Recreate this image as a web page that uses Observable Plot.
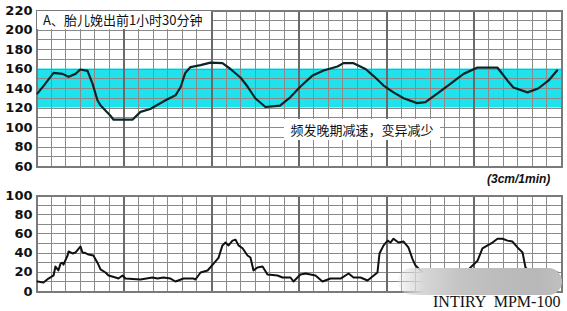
<!DOCTYPE html>
<html><head><meta charset="utf-8">
<script src="https://cdn.jsdelivr.net/npm/d3@7"></script>
<script src="https://cdn.jsdelivr.net/npm/@observablehq/plot@0.6"></script>
<style>
body{margin:0;background:#fff;}
#wrap{position:relative;width:567px;height:311px;overflow:hidden;background:#fff;}
#topBox,#botBox{position:absolute;left:0;}
#topBox{top:0;} #botBox{top:185px;}
.note{position:absolute;background:#fff;font-family:"Noto Sans CJK SC";font-size:13px;line-height:18px;color:#111;white-space:nowrap;}
#speed{position:absolute;left:487px;top:172px;font-family:"Liberation Sans";font-weight:bold;font-style:italic;font-size:12px;color:#111;}
#blob{position:absolute;left:398px;top:268px;width:164px;height:27px;border-radius:14px;
 background:linear-gradient(to right,rgba(230,230,230,0.3),#d6d6d6 16%,#c4c4c4 38%,#bbbbbb 65%,#b8b8b8 85%,#c0c0c0);filter:blur(0.6px);}
#brand{position:absolute;left:433px;top:294px;font-family:"Liberation Serif";font-size:16px;line-height:16px;color:#111;white-space:pre;}
</style></head>
<body><div id="wrap">
<div id="topBox"></div><div id="botBox"></div>
<div class="note" id="title" style="left:37px;top:11px;width:168px;height:18px;padding-left:6px;"></div>
<div class="note" id="anno" style="left:284px;top:119px;width:156px;height:21px;line-height:21px;text-align:center;"></div>
<div id="speed"></div>
<div id="blob"></div>
<div id="brand"></div>
</div>
<script>
// ---- data ----
const titleText = "A、胎儿娩出前1小时30分钟";
const annoText = "频发晚期减速，变异减少";
const speedText = "(3cm/1min)";
const brandText = "INTIRY  MPM-100";

const fhrT = [0.7,5,11.7,17.8,22,26.7,30,35,38.4,41.8,44,50.7,52.8,65.8,71.3,78,88.5,95.3,98.7,102,105.6,112.5,119.3,127.5,133,140,144.7,150,157,167,174,181,189,196.8,206.4,210.5,217.4,225.6,231,238,244.8,251.7,261,266.7,275,284,292.8,302.4,316,323,327,336.7,344,351,357];
const fhrV = [135,143,156,155,152,155,159.5,158,145,128,122.5,112,108,108,116,119,128,133,141,156,162,164,166.5,166,160,151,142,130,121,122.5,131,142,153,158.5,162.5,166,166,160,153,143,136,130,125,126,135,145,155,161.5,161.5,148,141,136,140,148,158.5];

const ucT = [0.7,4.8,8.2,11.7,13,15,16.5,17.8,18.5,21.3,22,24.7,26.7,30.2,31.5,33.6,35.7,39,41.8,43.9,47.3,49.4,54.2,56.2,59,61,71.3,79.5,83,87,91.9,95.3,100.8,107.7,109,112.5,117.3,121.4,124.8,127.5,129.6,131.7,134.4,136.5,138.5,141.3,144.7,146.7,148.8,151.5,155,158.4,165.3,168.7,174.2,176.2,181,184.5,191.3,196.1,201.6,208.5,214,217.4,222.2,227,233.8,235.2,238,240.8,242.7,244.8,248.2,251.7,255,257.8,259.9,263.3,271.5,278.4,287.3,292.8,297.6,302.4,305.8,309.3,312.7,316.1,319.5,323,326.4,329.8,333.3,335.3,338.7,343.5,350.4,353.8,357.3];
const ucV = [10.4,9.4,13.5,16.7,26,22,29,30,28,37.5,41.7,39.6,40.6,46.9,40.6,40,38.5,37.5,30,23,19.8,16.7,14.6,13.5,16.7,13.5,12.5,14.6,13.5,14.6,13.5,10.4,13.5,13.5,12.5,19.8,21.9,29,35,48,51,48,53,54,48,45,37.5,35.4,21.9,25,26,17.7,16.7,14.6,14.6,10.4,17.7,18.75,16.7,10.4,13.5,13.5,18.75,14.6,14.6,11.5,19.8,39.6,48,53,51,55,51,52,46,34,27,22,16.7,17.7,19.8,16.7,25,32,45,48,51,55,55,53,52,46,40.6,25,19.8,18.75,16.7,19.8,19.8];

const fhrTicks = [60,80,100,120,140,160,180,200,220];
const ucTicks = [0,20,40,60,80,100];
const band = [{lo:120, hi:160}];
const tSpan = [0,360];

// ---- helpers ----
const fhr = fhrT.map((t,i)=>({t, v:fhrV[i]}));
const uc = ucT.map((t,i)=>({t, v:ucV[i]}));
const minorX = d3.range(tSpan[0], tSpan[1]+1, 10);
const majorX = d3.range(tSpan[0], tSpan[1]+1, 60);
const axisStyle = {fontFamily:"DejaVu Sans", fontSize:"13px", fontWeight:"bold", color:"#111", background:"transparent", overflow:"visible"};

function grid(yMin, yMax){
  return [
    Plot.ruleY(d3.range(yMin, yMax+1, 10), {stroke:"#8a8a8a", strokeWidth:1, shapeRendering:"crispEdges"}),
    Plot.ruleX(minorX, {x:d=>d, stroke:"#8a8a8a", strokeWidth:1, shapeRendering:"crispEdges"}),
    Plot.ruleX(majorX, {x:d=>d, stroke:"#6a6a6a", strokeWidth:2, shapeRendering:"crispEdges"}),
    Plot.frame({stroke:"#7a7a7a", strokeWidth:2, shapeRendering:"crispEdges"})
  ];
}

const topChart = Plot.plot({
  width:567, height:175, marginLeft:36, marginRight:6, marginTop:10, marginBottom:9,
  style: axisStyle,
  x:{domain:tSpan, axis:null},
  y:{domain:[60,220], axis:null, label:null},
  marks:[
    Plot.rect(band, {x1:()=>tSpan[0], x2:()=>tSpan[1], y1:"lo", y2:"hi", fill:"#1fe2ec"}),
    ...grid(60,220),
    Plot.axisY({ticks:fhrTicks, tickSize:0, tickPadding:4, label:null}),
    Plot.line(fhr, {x:"t", y:"v", stroke:"#0c2626", strokeWidth:2.2})
  ]
});
document.getElementById("topBox").append(topChart);

const botChart = Plot.plot({
  width:567, height:115, marginLeft:36, marginRight:6, marginTop:10, marginBottom:9,
  style: axisStyle,
  x:{domain:tSpan, axis:null},
  y:{domain:[0,100], axis:null, label:null},
  marks:[
    ...grid(0,100),
    Plot.axisY({ticks:ucTicks, tickSize:0, tickPadding:4, label:null}),
    Plot.line(uc, {x:"t", y:"v", stroke:"#111", strokeWidth:2})
  ]
});
document.getElementById("botBox").append(botChart);

document.getElementById("title").textContent = titleText;
document.getElementById("anno").textContent = annoText;
document.getElementById("speed").textContent = speedText;
document.getElementById("brand").textContent = brandText;
</script>
</body></html>
